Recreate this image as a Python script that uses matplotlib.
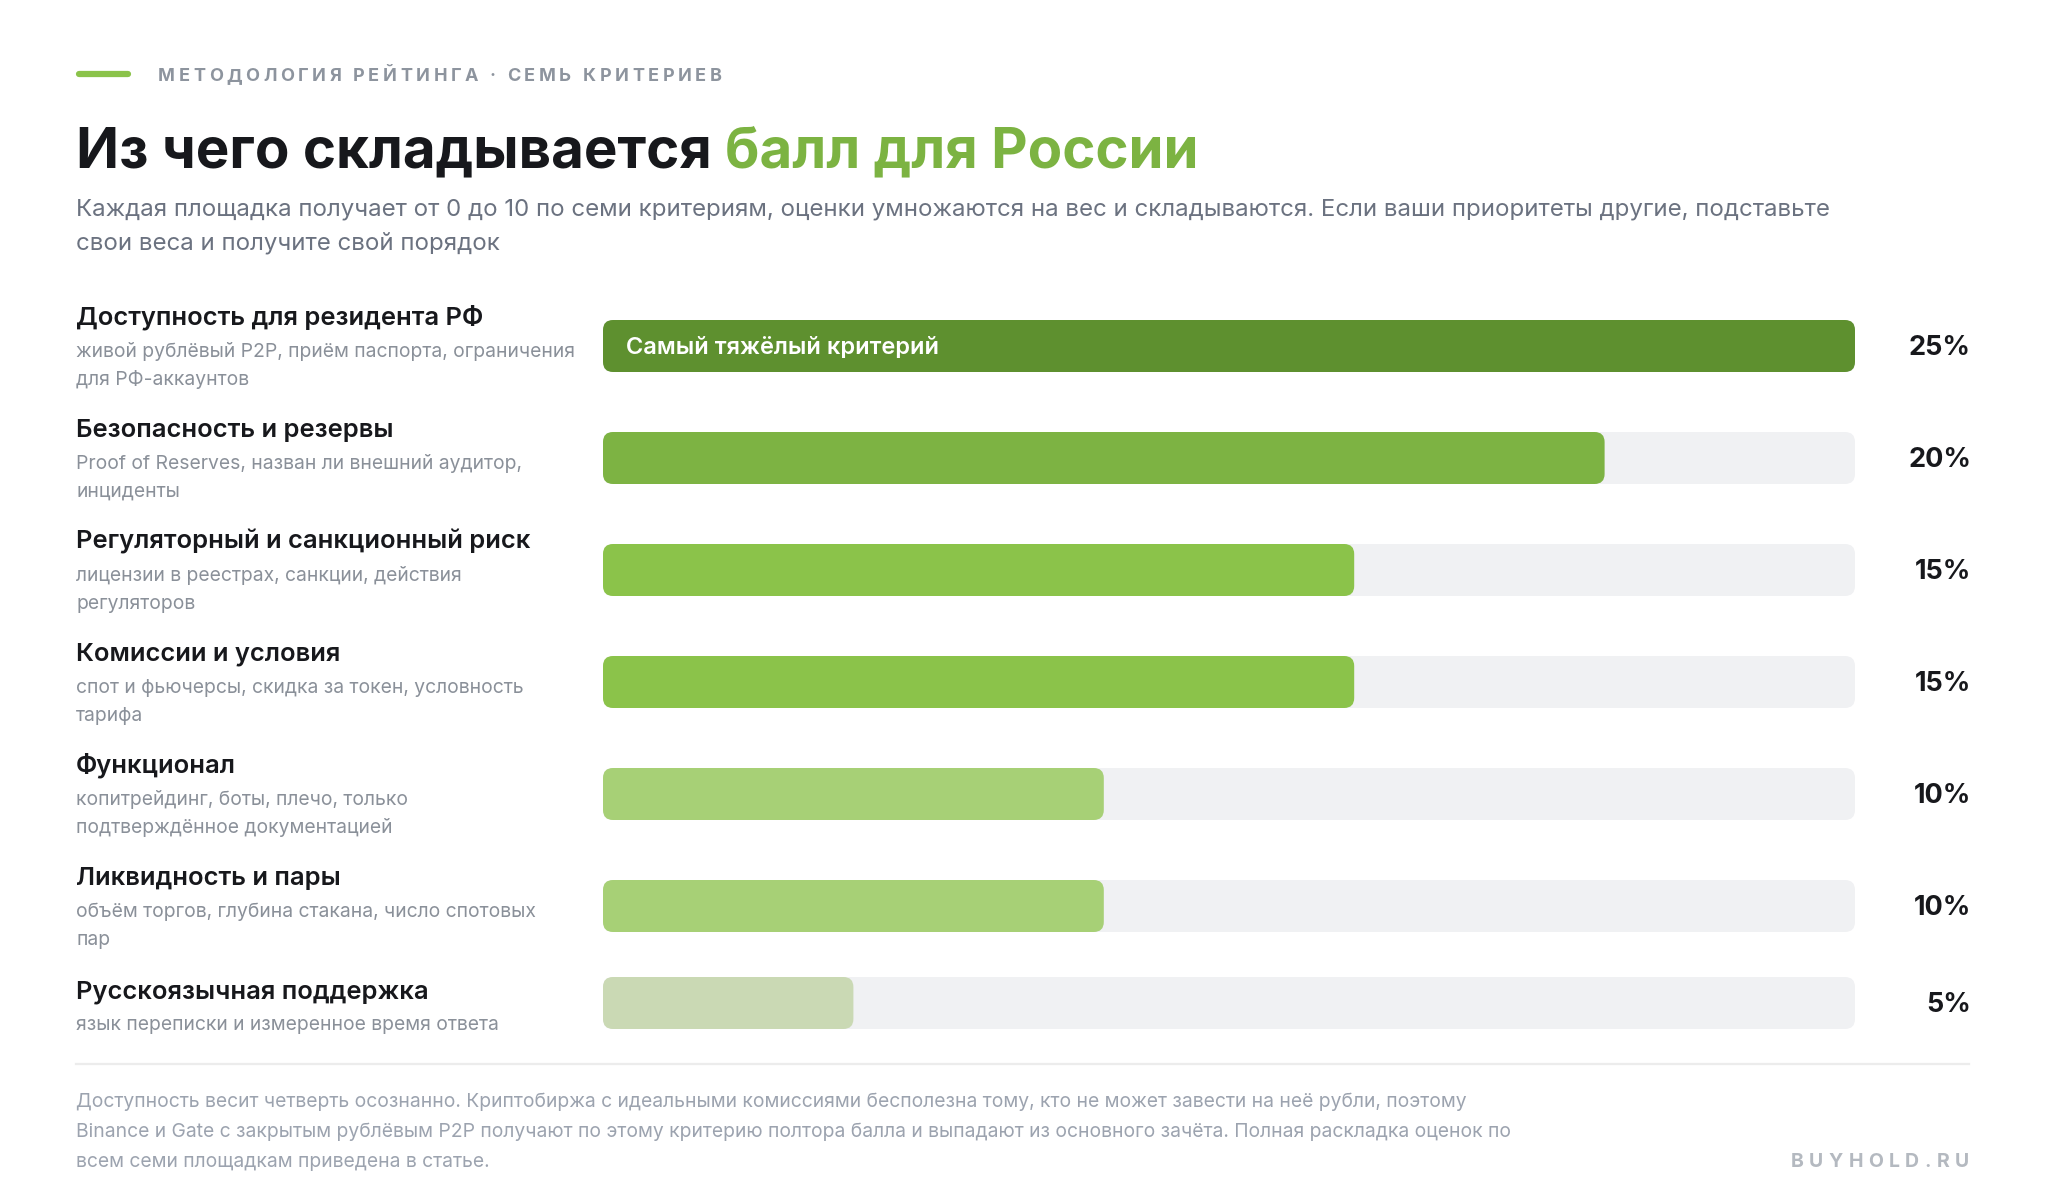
import matplotlib
matplotlib.use("Agg")
import matplotlib.pyplot as plt
from matplotlib.patches import FancyBboxPatch
from matplotlib.font_manager import FontProperties

plt.rcParams['font.family'] = ['Inter', 'DejaVu Sans']

# ---- data ----
criteria = [
    "Доступность для резидента РФ",
    "Безопасность и резервы",
    "Регуляторный и санкционный риск",
    "Комиссии и условия",
    "Функционал",
    "Ликвидность и пары",
    "Русскоязычная поддержка",
]
descriptions = [
    ["живой рублёвый P2P, приём паспорта, ограничения", "для РФ-аккаунтов"],
    ["Proof of Reserves, назван ли внешний аудитор,", "инциденты"],
    ["лицензии в реестрах, санкции, действия", "регуляторов"],
    ["спот и фьючерсы, скидка за токен, условность", "тарифа"],
    ["копитрейдинг, боты, плечо, только", "подтверждённое документацией"],
    ["объём торгов, глубина стакана, число спотовых", "пар"],
    ["язык переписки и измеренное время ответа"],
]
weights = [25, 20, 15, 15, 10, 10, 5]
weight_labels = ["25%", "20%", "15%", "15%", "10%", "10%", "5%"]
bar_colors = ["#5e902f", "#7db343", "#8bc34a", "#8bc34a", "#a7d076", "#a7d076", "#cad9b4"]
top_note = "Самый тяжёлый критерий"

kicker = "МЕТОДОЛОГИЯ РЕЙТИНГА · СЕМЬ КРИТЕРИЕВ"
title_a = "Из чего складывается"
title_b = "балл для России"
subtitle = ["Каждая площадка получает от 0 до 10 по семи критериям, оценки умножаются на вес и складываются. Если ваши приоритеты другие, подставьте",
            "свои веса и получите свой порядок"]
footnote = ["Доступность весит четверть осознанно. Криптобиржа с идеальными комиссиями бесполезна тому, кто не может завести на неё рубли, поэтому",
            "Binance и Gate с закрытым рублёвым P2P получают по этому критерию полтора балла и выпадают из основного зачёта. Полная раскладка оценок по",
            "всем семи площадкам приведена в статье."]
brand = "BUYHOLD.RU"

W, H = 2048, 1200
fig = plt.figure(figsize=(W / 100, H / 100), dpi=100)
fig.patch.set_facecolor("white")
ax = fig.add_axes([0, 0, 1, 1])
ax.set_xlim(0, W)
ax.set_ylim(H, 0)
ax.axis("off")
ax.set_zorder(3)
renderer = fig.canvas.get_renderer()


def text_w(s, size, weight="normal"):
    fp = FontProperties(family=['Inter', 'DejaVu Sans'], size=size, weight=weight)
    w, h, d = renderer.get_text_width_height_descent(s, fp, ismath=False)
    return w


def spaced(x, y, s, size, color, weight="bold", track=3.0, ha="left"):
    widths = [text_w(c, size, weight) if c != " " else text_w("a a", size, weight) - text_w("aa", size, weight)
              for c in s]
    total = sum(widths) + track * (len(s) - 1)
    if ha == "right":
        x = x - total
    for c, w in zip(s, widths):
        ax.text(x, y, c, fontsize=size, color=color, fontweight=weight, va="baseline", ha="left")
        x += w + track


LEFT, RIGHT = 76, 1971

# header
ax.plot([79, 128], [74, 74], color="#8bc34a", lw=4.5, solid_capstyle="round")
spaced(158, 81, kicker, 13, "#8d949e", track=3.6)

TS = 40.6
ax.text(LEFT, 167, title_a, fontsize=TS, fontweight="bold", color="#17181c", va="baseline")
space = text_w("a a", TS, "bold") - text_w("aa", TS, "bold")
ax.text(LEFT + text_w(title_a, TS, "bold") + space, 167, title_b, fontsize=TS,
        fontweight="bold", color="#7cb342", va="baseline")
for i, line in enumerate(subtitle):
    ax.text(LEFT, 215 + 34 * i, line, fontsize=17.3, color="#6b7280", va="baseline")

# rows
row_tops = [325, 437, 549, 661, 773, 885, 998]
bax = fig.add_axes([603 / W, 0, 1252 / W, 1])
bax.set_xlim(0, 25)
bax.set_ylim(H, 0)
bax.axis("off")
bar_h = 52
for i, name in enumerate(criteria):
    top = row_tops[i]
    ax.text(LEFT, top, name, fontsize=18.4, fontweight="semibold", color="#17181c", va="baseline")
    for j, d in enumerate(descriptions[i]):
        ax.text(LEFT, top + 32 + 28 * j, d, fontsize=13.9, color="#8a9099", va="baseline")
    yc = top + (21 if len(descriptions[i]) > 1 else 5)
    track = FancyBboxPatch((0, yc - bar_h / 2), 25, bar_h,
                           boxstyle="round,pad=0,rounding_size=0.2", mutation_aspect=50,
                           fc="#f0f1f3", ec="none")
    bax.add_patch(track)
    fill = FancyBboxPatch((0, yc - bar_h / 2), weights[i], bar_h,
                          boxstyle="round,pad=0,rounding_size=0.2", mutation_aspect=50,
                          fc=bar_colors[i], ec="none")
    bax.add_patch(fill)
    ax.text(RIGHT, yc + 9, weight_labels[i], fontsize=19.5, fontweight="bold", color="#17181c",
            ha="right", va="baseline")
    if i == 0:
        ax.text(626, yc + 8, top_note, fontsize=17, fontweight="semibold", color="white", va="baseline")

# footer
ax.plot([LEFT, RIGHT - 2], [1064, 1064], color="#ececec", lw=1.6)
for i, line in enumerate(footnote):
    ax.text(LEFT, 1107 + 30 * i, line, fontsize=13.9, color="#9ca3af", va="baseline")
spaced(RIGHT - 2, 1167, brand, 14, "#b4b9c0", weight="bold", track=5.5, ha="right")

fig.savefig("out.png", dpi=100, facecolor="white")
